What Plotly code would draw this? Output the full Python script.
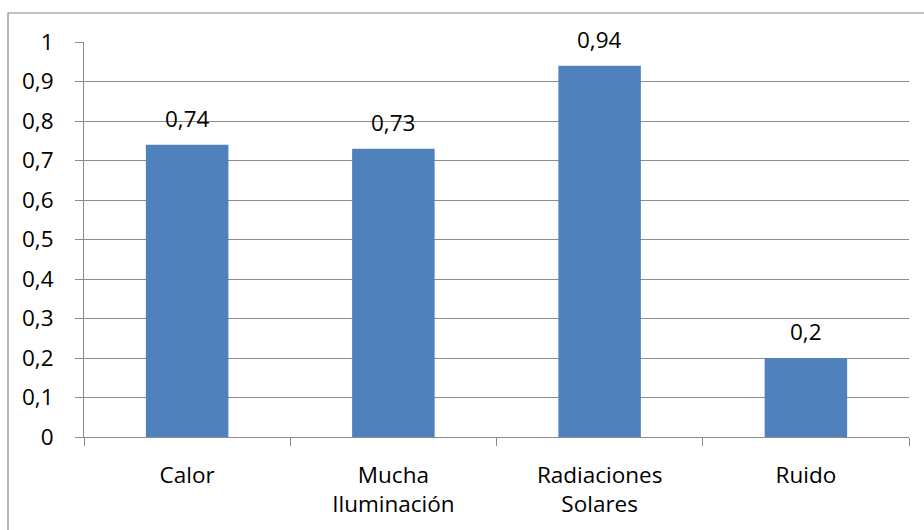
import plotly.graph_objects as go

# Chart data
categories = ["Calor", "Mucha<br>Iluminación", "Radiaciones<br>Solares", "Ruido"]
values = [0.74, 0.73, 0.94, 0.2]
value_labels = ["0,74", "0,73", "0,94", "0,2"]
y_ticks = [0, 0.1, 0.2, 0.3, 0.4, 0.5, 0.6, 0.7, 0.8, 0.9, 1]
y_tick_labels = ["0", "0,1", "0,2", "0,3", "0,4", "0,5", "0,6", "0,7", "0,8", "0,9", "1"]

BAR = "#4F81BD"
GRID = "#8C8C8C"
FONT = dict(family="Open Sans, DejaVu Sans, sans-serif", size=22.5, color="#000000")

fig = go.Figure()
fig.add_trace(go.Bar(
    x=categories,
    y=values,
    marker=dict(color=BAR, line=dict(width=0)),
    width=0.4,
    hoverinfo="skip",
))

# value labels above each bar
for cat, v, lab in zip(categories, values, value_labels):
    fig.add_annotation(
        x=cat, y=v, text=lab, showarrow=False,
        xref="x", yref="y", yanchor="bottom", yshift=9,
        font=FONT,
    )

# chart-area border
fig.add_shape(
    type="rect", xref="paper", yref="paper",
    x0=-0.0921, x1=1.03, y0=-0.27, y1=1.0734,
    line=dict(color="#868686", width=1.2), fillcolor="rgba(0,0,0,0)",
    layer="below",
)

fig.update_layout(
    width=924, height=530,
    margin=dict(l=84, r=15, t=42, b=93),
    paper_bgcolor="white", plot_bgcolor="white",
    font=FONT,
    showlegend=False,
    bargap=0.6,
)
fig.update_xaxes(
    type="category",
    showgrid=False,
    showline=True, linecolor=GRID, linewidth=1,
    ticks="outside", tickson="boundaries", ticklen=8, tickcolor=GRID, tickwidth=1,
    tickfont=FONT,
    ticklabelstandoff=18,
)
fig.update_yaxes(
    range=[0, 1],
    tickvals=y_ticks, ticktext=y_tick_labels,
    showgrid=True, gridcolor=GRID, gridwidth=1,
    showline=True, linecolor=GRID, linewidth=1,
    ticks="outside", ticklen=8, tickcolor=GRID, tickwidth=1,
    tickfont=FONT,
    ticklabelstandoff=17,
    zeroline=False,
)

fig.write_html("out.html")
